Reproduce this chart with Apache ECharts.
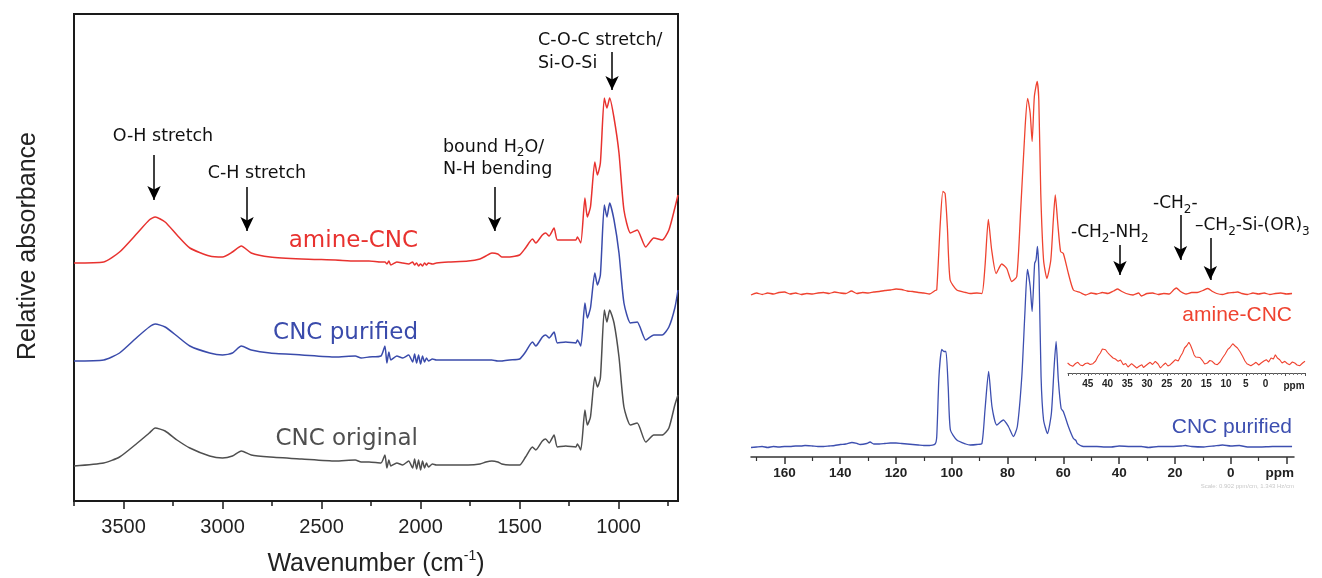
<!DOCTYPE html>
<html>
<head>
<meta charset="utf-8">
<title>FTIR and 13C NMR of CNC samples</title>
<script src="https://cdn.jsdelivr.net/npm/echarts@6.0.0/dist/echarts.min.js"></script>
<style>
  html, body { margin: 0; padding: 0; background: #fff; }
  #chart { width: 1322px; height: 578px; }
</style>
</head>
<body>
<div id="chart"></div>
<script>
// ---- FTIR (left panel), absorbance in a.u., curves already offset for display
var ftirWavenumber = [3750, 3600, 3520, 3430, 3370, 3340, 3290, 3230, 3165, 3065,
  3000, 2950, 2905, 2855, 2760, 2600, 2430, 2330, 2300, 2260,
  2200, 2180, 2170, 2160, 2150, 2120, 2090, 2060, 2040, 2030,
  2020, 2010, 2000, 1990, 1980, 1970, 1960, 1940, 1920, 1860,
  1760, 1700, 1670, 1640, 1610, 1590, 1550, 1500, 1470, 1435,
  1418, 1385, 1368, 1351, 1326, 1309, 1267, 1216, 1208, 1191,
  1170, 1158, 1142, 1120, 1107, 1092, 1072, 1059, 1045, 1023,
  998, 973, 940, 906, 863, 822, 780, 746, 716, 700];
var ftirAmineCNC = [238, 239, 249, 268, 281, 284, 279, 266, 253, 245,
  244, 249, 255, 248, 244, 242, 241, 240, 240, 240,
  239, 239, 237, 240, 236, 239, 238, 237, 239, 236,
  238, 235, 237, 235, 238, 236, 238, 237, 238, 239,
  240, 242, 245, 248, 247, 244, 244, 246, 253, 262,
  258, 266, 268, 265, 273, 261, 261, 261, 264, 258,
  303, 284, 294, 339, 326, 338, 403, 393, 403, 383,
  348, 291, 268, 271, 254, 263, 261, 271, 293, 306];
var ftirCNCPurified = [140, 141, 148, 164, 174, 177, 174, 165, 155, 148,
  146, 148, 155, 151, 148, 146, 144, 145, 143, 144,
  145, 155, 138, 149, 141, 145, 143, 146, 139, 147,
  138, 146, 137, 145, 139, 143, 140, 142, 141, 141,
  141, 141, 141, 141, 140, 140, 141, 142, 149, 159,
  155, 164, 166, 163, 169, 158, 159, 158, 161, 155,
  198, 183, 193, 228, 216, 226, 296, 284, 298, 281,
  248, 198, 178, 179, 161, 166, 166, 174, 193, 211];
var ftirCNCOriginal = [35, 38, 44, 58, 68, 73, 70, 61, 53, 45,
  43, 45, 50, 46, 44, 42, 40, 41, 39, 39,
  38, 46, 33, 41, 35, 38, 36, 40, 33, 42,
  32, 41, 31, 40, 33, 38, 34, 37, 36, 36,
  36, 37, 39, 40, 39, 37, 36, 36, 44, 54,
  51, 60, 62, 58, 66, 54, 55, 54, 57, 51,
  91, 76, 84, 124, 114, 123, 191, 179, 191, 178,
  144, 94, 76, 78, 59, 66, 66, 73, 96, 106];
var ftirMajorTicks = [3500, 3000, 2500, 2000, 1500, 1000];
var ftirMinorTicks = [3750, 3250, 2750, 2250, 1750, 1250, 750];
// arrows: [wavenumber, from, to]
var ftirArrows = [[3346, 346, 301], [2876, 314, 270], [1626, 314, 270], [1033, 449, 411]];

// ---- 13C NMR (right panel), intensity above each baseline
var nmrAminePpm = [172, 170, 168, 166, 164, 162, 160, 158, 156, 154, 152, 150, 148, 146, 144, 142, 140, 138, 136, 134,
  132, 130, 128, 126, 124, 122, 120, 118, 116, 114, 112, 110, 108, 106, 105.4, 104.2, 103.2, 102.4, 101.6, 100.6,
  98.2, 95, 93.4, 91, 89.2, 88.1, 86.9, 85.7, 84.1, 82.1, 80.3, 78.5, 76.7, 75.3, 73.7, 72.8, 71.9, 71.2, 70.4, 69.4,
  68.8, 68.1, 67.1, 65.9, 64.5, 63.6, 62.9, 62.0, 61.0, 60.0, 58.2, 56.4, 54, 52, 50, 48, 46, 44, 42, 40.5,
  39, 37.5, 35, 33, 32, 30, 28, 26, 24, 22, 20.5, 19.5, 18, 16, 14, 12, 10, 8.2, 6.5, 5,
  3, 1, -1, -2.5, -4, -6, -8, -10, -12, -14, -16, -18, -20, -22];
var nmrAmine = [-1.5, 0.5, -1, 0.5, -0.5, 1, 1.5, -0.5, 0.5, -1, 0, -0.5, 0.5, 1, 0, 1.5, 0.5, 0, 2.5, 0,
  1, 0.5, 1.5, 2, 3, 3.5, 4.5, 4, 2.5, 2, 1, 0.5, -0.5, 3, 3.5, 67, 102, 100, 67, 13.5,
  3.5, 1, 0, 0.5, 0, 27, 74, 43.5, 20, 29.5, 25, 12, 17, 83.5, 167, 195, 180.5, 152, 197, 212,
  193.5, 100, 33.5, 15, 33.5, 73.5, 98.5, 70, 42, 40, 20, 3.5, 1, -1.5, 0.5, -0.5, 1, 0, 2.5, 4.5,
  2, 0, -1.5, 0.5, -2.5, 0, 0.5, -1, 0, -0.5, 3.5, 5.5, 2, -0.5, 1, 1, 3, 5, 2, 0,
  -1, 0.5, 1, 1.5, 0, -1, 0.5, -0.5, 0.5, -1, 0, 0.5, -0.5, 0];
var nmrPurifiedPpm = [172, 170, 168, 166, 164, 162, 160, 158, 156, 154, 152.6, 150, 148, 146, 144, 142, 140, 138, 135.8, 134,
  132.9, 130.5, 129.3, 128, 126, 124, 122, 120, 118, 116, 114, 112, 110, 108, 106, 105.4, 104.6, 103.6, 102.8, 102.1,
  101.3, 100.5, 98.2, 95, 93.4, 91, 89.2, 88.1, 86.8, 85.6, 83.9, 81.5, 79.7, 77.9, 76.5, 74.9, 73.8, 72.9, 71.9, 71.2,
  70.3, 69.8, 69.3, 68.7, 68.0, 67.1, 65.7, 64.3, 63.3, 62.6, 61.8, 60.8, 60.0, 58.2, 56.4, 55.5, 55, 52.8, 50, 48,
  45, 42.8, 40, 36, 32, 29.5, 26, 22, 18, 16.2, 14, 9.6, 6, 2.9, 0, -3.1, -6, -10.4, -15, -22];
var nmrPurified = [-1, -0.5, 0, -1, 0, -0.5, 0, 0, 0.5, 0.5, 1, 0.5, 0, 0, 0.5, 1, 2, 2.5, 4, 3,
  2, 3, 4.5, 2.5, 2.5, 3, 3.5, 3.5, 3, 2.5, 2, 1.5, 1, 1, 2.5, 9.8, 70, 97, 95, 95,
  60, 16.5, 6.5, 2.5, 1.5, 2, 3, 36.5, 75, 40, 21.5, 26.5, 20, 10, 20, 70, 133, 177, 160, 135,
  183, 186.5, 200, 170, 70, 26.5, 13, 33, 80, 105, 66.5, 38, 35, 20, 8, 6, 3, 0, 0, 0,
  -0.5, -0.5, 0.5, 0, 0, -1, 0, 0, 0.5, 1, 0, -0.5, 0.5, 1.5, 0.5, 1, -0.5, -0.5, 0, 0];
var nmrOffsetAmine = 163.5;
var nmrOffsetPurified = 10.5;
var nmrMajorTicks = [160, 140, 120, 100, 80, 60, 40, 20, 0, -20];
var nmrMinorTicks = [170, 150, 130, 110, 90, 70, 50, 30, 10, -10];
var nmrTickLabels = [160, 140, 120, 100, 80, 60, 40, 20, 0];
// arrows: [ppm, from, to]
var nmrArrows = [[39.7, 212, 182], [18.0, 242, 197], [7.3, 219, 177]];

// ---- inset: amine-CNC, 50 to -10 ppm, vertically expanded
var insetPpm = [50.1, 49.5, 48.8, 48.1, 47.5, 46.9, 46.3, 45.6, 45, 44.4, 43.7, 43.0, 42.4, 41.8, 41.3, 40.9, 40.5, 40, 39.5, 39.1,
  38.6, 38, 37.3, 36.7, 36, 35.4, 34.8, 34.3, 33.9, 33.2, 32.6, 31.9, 31.3, 30.9, 30.5, 29.8, 29.2, 28.6, 27.9, 27.2,
  26.6, 25.9, 25.3, 24.7, 24.1, 23.4, 22.8, 22.1, 21.5, 21, 20.5, 19.9, 19.4, 19, 18.7, 18.4, 18.1, 17.7, 17.3, 16.6,
  16, 15.4, 14.7, 14.1, 13.5, 12.8, 12.2, 11.5, 10.9, 10.2, 9.6, 9, 8.3, 7.7, 7.1, 6.4, 5.8, 5.2, 4.7, 4.2,
  3.7, 3, 2.4, 1.7, 1.1, 0.4, -0.2, -0.8, -1.4, -2, -2.5, -3, -3.6, -4.2, -4.9, -5.5, -6.1, -6.8, -7.4, -8,
  -8.7, -9.4, -10];
var insetAmine = [10, 8, 6.7, 9.5, 10.7, 8, 7.3, 9.5, 10, 8.5, 9.3, 12, 16.7, 20, 24, 22, 23.3, 20.5, 18.3, 19.5,
  15, 14, 11.7, 13, 8.3, 9.5, 6, 7.5, 9.3, 7, 5, 7, 8.3, 5.5, 6, 9, 10.7, 8.5, 11.7, 9,
  5, 8, 10, 7, 8.3, 11, 13.3, 12, 16.7, 20, 25, 27.5, 30.7, 28, 26.7, 22, 18.3, 16, 14, 15.5,
  12.7, 9, 10, 12.5, 11.7, 9, 8.3, 11, 15, 19, 23.3, 25.5, 29.3, 27, 25, 21, 16.7, 12, 9.3, 8,
  7.3, 9, 10.7, 8, 10, 12, 13.3, 11, 15, 14, 18.3, 15, 13.3, 10, 11.7, 9.5, 8.3, 11, 10, 8,
  7.3, 10, 11.7];

var RED = '#e8322f', BLUE = '#3a4bab', GRAY = '#4f4f4f';
var NMR_RED = '#ef4330', NMR_BLUE = '#3d4fb0';
var ARIAL = 'Liberation Sans, Arial, sans-serif';
var VERDANA = 'DejaVu Sans, Verdana, sans-serif';

function pairs(xs, ys, off) {
  return xs.map(function (x, i) { return [x, ys[i] + (off || 0)]; });
}
function arrowLines(list) {
  return list.map(function (a) { return [{ coord: [a[0], a[1]] }, { coord: [a[0], a[2]] }]; });
}
function txt(text, x, y, size, color, align, font, rich) {
  return {
    type: 'text', x: x, y: y, silent: true,
    style: {
      text: text, fill: color, fontSize: size, fontFamily: font,
      align: align, verticalAlign: 'middle', rich: rich
    }
  };
}
function plain(v) { return String(v); }

var subRich = function (size) {
  return {
    t: { fontSize: size, fontFamily: VERDANA, color: '#111', lineHeight: size + 6 },
    s: { fontSize: Math.round(size * 0.7), fontFamily: VERDANA, color: '#111', lineHeight: size + 6, verticalAlign: 'bottom' }
  };
};

var chart = echarts.init(document.getElementById('chart'));

var option = {
  animation: false,
  backgroundColor: '#fff',
  grid: [
    { left: 74, top: 14, width: 604, height: 487, outerBoundsMode: 'none', show: true, borderColor: '#1a1a1a', borderWidth: 2, backgroundColor: 'transparent' },
    { left: 751, top: 60, width: 543, height: 397, outerBoundsMode: 'none' },
    { left: 1068, top: 335, width: 237, height: 38, outerBoundsMode: 'none' }
  ],
  xAxis: [
    {
      gridIndex: 0, type: 'value', position: 'bottom', min: 700, max: 3750, inverse: true,
      name: 'Wavenumber (cm{sup|-1})', nameLocation: 'middle', nameGap: 48,
      nameTextStyle: { fontSize: 25, color: '#222', fontFamily: ARIAL, lineHeight: 30,
        rich: { sup: { fontSize: 14, color: '#222', fontFamily: ARIAL, lineHeight: 30, verticalAlign: 'top' } } },
      axisLine: { show: false },
      axisTick: { customValues: ftirMajorTicks, length: 8, lineStyle: { color: '#1a1a1a', width: 1.5 } },
      axisLabel: { customValues: ftirMajorTicks, formatter: plain, fontSize: 20, color: '#222', fontFamily: ARIAL, margin: 16 },
      splitLine: { show: false }
    },
    {
      gridIndex: 0, type: 'value', position: 'bottom', min: 700, max: 3750, inverse: true,
      axisLine: { show: false },
      axisTick: { customValues: ftirMinorTicks, length: 5, lineStyle: { color: '#1a1a1a', width: 1.5 } },
      axisLabel: { show: false }, splitLine: { show: false }
    },
    {
      gridIndex: 1, type: 'value', position: 'bottom', min: -22.7, max: 172, inverse: true,
      axisLine: { show: true, lineStyle: { color: '#333', width: 1.5 } },
      axisTick: { customValues: nmrMajorTicks, length: 7, lineStyle: { color: '#333', width: 1.5 } },
      axisLabel: { customValues: nmrTickLabels, formatter: plain, fontSize: 13.5, fontWeight: 'bold', color: '#222', fontFamily: ARIAL, margin: 9 },
      splitLine: { show: false }
    },
    {
      gridIndex: 1, type: 'value', position: 'bottom', min: -22.7, max: 172, inverse: true,
      axisLine: { show: false },
      axisTick: { customValues: nmrMinorTicks, length: 4, lineStyle: { color: '#333', width: 1.2 } },
      axisLabel: { show: false }, splitLine: { show: false }
    },
    {
      gridIndex: 2, type: 'value', position: 'bottom', min: -10, max: 50, interval: 5, inverse: true,
      axisLine: { show: true, lineStyle: { color: '#555', width: 1 } },
      axisTick: { length: 3, lineStyle: { color: '#555', width: 1 } },
      minorTick: { show: true, splitNumber: 5, length: 2, lineStyle: { color: '#777' } },
      axisLabel: {
        fontSize: 10, fontWeight: 'bold', color: '#222', fontFamily: ARIAL, margin: 6,
        formatter: function (v) { return (v >= 0 && v <= 45) ? String(v) : ''; }
      },
      splitLine: { show: false }
    }
  ],
  yAxis: [
    { gridIndex: 0, type: 'value', min: 0, max: 487, show: false },
    { gridIndex: 1, type: 'value', min: 0, max: 397, show: false },
    { gridIndex: 2, type: 'value', min: 0, max: 38, show: false }
  ],
  series: [
    {
      name: 'CNC original', type: 'line', xAxisIndex: 0, yAxisIndex: 0, showSymbol: false, smooth: 0.2,
      data: pairs(ftirWavenumber, ftirCNCOriginal), lineStyle: { color: GRAY, width: 1.5 },
      markLine: {
        silent: true, symbol: ['none', 'arrow'], symbolSize: [10, 14], label: { show: false },
        lineStyle: { color: '#000', width: 1.5, type: 'solid' },
        data: arrowLines(ftirArrows)
      }
    },
    {
      name: 'CNC purified', type: 'line', xAxisIndex: 0, yAxisIndex: 0, showSymbol: false, smooth: 0.2,
      data: pairs(ftirWavenumber, ftirCNCPurified), lineStyle: { color: BLUE, width: 1.5 }
    },
    {
      name: 'amine-CNC', type: 'line', xAxisIndex: 0, yAxisIndex: 0, showSymbol: false, smooth: 0.2,
      data: pairs(ftirWavenumber, ftirAmineCNC), lineStyle: { color: RED, width: 1.5 }
    },
    {
      name: 'CNC purified NMR', type: 'line', xAxisIndex: 2, yAxisIndex: 1, showSymbol: false, smooth: 0.2,
      data: pairs(nmrPurifiedPpm, nmrPurified, nmrOffsetPurified), lineStyle: { color: NMR_BLUE, width: 1.3 }
    },
    {
      name: 'amine-CNC NMR', type: 'line', xAxisIndex: 2, yAxisIndex: 1, showSymbol: false, smooth: 0.2,
      data: pairs(nmrAminePpm, nmrAmine, nmrOffsetAmine), lineStyle: { color: NMR_RED, width: 1.3 },
      markLine: {
        silent: true, symbol: ['none', 'arrow'], symbolSize: [10, 14], label: { show: false },
        lineStyle: { color: '#000', width: 1.5, type: 'solid' },
        data: arrowLines(nmrArrows)
      }
    },
    {
      name: 'amine-CNC inset', type: 'line', xAxisIndex: 4, yAxisIndex: 2, showSymbol: false,
      data: pairs(insetPpm, insetAmine), lineStyle: { color: NMR_RED, width: 1.1 }
    }
  ],
  graphic: [
    {
      type: 'text', x: 28, y: 246, rotation: Math.PI / 2, silent: true,
      style: { text: 'Relative absorbance', fontSize: 25, fontFamily: ARIAL, fill: '#222', align: 'center', verticalAlign: 'middle' }
    },
    txt('O-H stretch', 163, 136, 17.5, '#111', 'center', VERDANA),
    txt('C-H stretch', 257, 173, 17.5, '#111', 'center', VERDANA),
    txt('{t|bound H}{s|2}{t|O/}', 443, 147, 17.5, '#111', 'left', VERDANA, subRich(17.5)),
    txt('N-H bending', 443, 169, 17.5, '#111', 'left', VERDANA),
    txt('C-O-C stretch/', 538, 40, 17.5, '#111', 'left', VERDANA),
    txt('Si-O-Si', 538, 63, 17.5, '#111', 'left', VERDANA),
    txt('amine-CNC', 418, 241, 23, RED, 'right', VERDANA),
    txt('CNC purified', 418, 333, 23, BLUE, 'right', VERDANA),
    txt('CNC original', 418, 439, 23, GRAY, 'right', VERDANA),

    txt('{t|-CH}{s|2}{t|-NH}{s|2}', 1071, 233, 17, '#111', 'left', VERDANA, subRich(17)),
    txt('{t|-CH}{s|2}{t|-}', 1153, 204, 17, '#111', 'left', VERDANA, subRich(17)),
    txt('{t|\u2013CH}{s|2}{t|-Si-(OR)}{s|3}', 1195, 226, 17, '#111', 'left', VERDANA, subRich(17)),
    txt('amine-CNC', 1292, 315, 21, NMR_RED, 'right', ARIAL),
    txt('CNC purified', 1292, 427, 21, NMR_BLUE, 'right', ARIAL),
    {
      type: 'text', x: 1294, y: 473, silent: true,
      style: { text: 'ppm', fontSize: 13.5, fontWeight: 'bold', fontFamily: ARIAL, fill: '#222', align: 'right', verticalAlign: 'middle' }
    },
    {
      type: 'text', x: 1294, y: 386, silent: true,
      style: { text: 'ppm', fontSize: 10, fontWeight: 'bold', fontFamily: ARIAL, fill: '#222', align: 'center', verticalAlign: 'middle' }
    },
    txt('Scale: 0.902 ppm/cm, 1.343 Hz/cm', 1294, 486, 6, '#c8c8c8', 'right', ARIAL)
  ]
};

chart.setOption(option);
</script>
</body>
</html>
